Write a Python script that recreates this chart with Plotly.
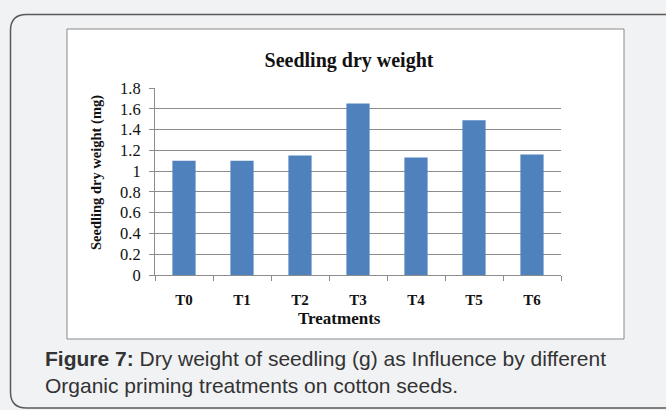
import plotly.graph_objects as go

categories = ["T0", "T1", "T2", "T3", "T4", "T5", "T6"]
dry_weight = [1.10, 1.10, 1.15, 1.65, 1.13, 1.49, 1.16]
y_ticks = [0, 0.2, 0.4, 0.6, 0.8, 1.0, 1.2, 1.4, 1.6, 1.8]
y_tick_text = ["0", "0.2", "0.4", "0.6", "0.8", "1", "1.2", "1.4", "1.6", "1.8"]

W, H = 666, 410
ML, MR, MT, MB = 155, 105, 88, 135
PW, PH = W - ML - MR, H - MT - MB

def px(x):
    return (x - ML) / PW
def py(y):
    return (H - MB - y) / PH

SERIF = "Liberation Serif, Times New Roman, serif"
SANS = "Liberation Sans, Arial, sans-serif"
GRID = "#8c8c8c"

fig = go.Figure(go.Bar(
    x=categories, y=dry_weight,
    marker=dict(color="#4f81bd", line=dict(width=0)),
    width=0.4,
))

# outer rounded panel
r = 16
x0, y0, x1, y1 = 10.5, 14.5, 690, 408
path = (f"M {px(x0)},{py(y0 + r)} Q {px(x0)},{py(y0)} {px(x0 + r)},{py(y0)} "
        f"L {px(x1)},{py(y0)} L {px(x1)},{py(y1)} L {px(x0 + r)},{py(y1)} "
        f"Q {px(x0)},{py(y1)} {px(x0)},{py(y1 - r)} Z")

fig.update_layout(
    width=W, height=H,
    paper_bgcolor="#f1f2f4",
    plot_bgcolor="white",
    margin=dict(l=ML, r=MR, t=MT, b=MB, autoexpand=False),
    showlegend=False,
    shapes=[
        dict(type="path", path=path, xref="paper", yref="paper",
             line=dict(color="#5a5a5a", width=1.5), fillcolor="#f1f2f4", layer="below"),
        dict(type="rect", xref="paper", yref="paper",
             x0=px(67), x1=px(624), y0=py(339), y1=py(29),
             line=dict(color="#8a8a8a", width=1), fillcolor="white", layer="below"),
    ],
    title=dict(text="<b>Seedling dry weight</b>", x=349 / W, xanchor="center",
               y=1 - 60 / H, yanchor="middle", xref="container", yref="container",
               font=dict(family=SERIF, size=20, color="#111")),
    xaxis=dict(
        showline=True, linecolor=GRID, linewidth=1,
        ticks="outside", tickson="boundaries", ticklen=5, tickcolor=GRID,
        tickfont=dict(family=SERIF, size=15, color="#111", weight="bold"),
        ticklabelstandoff=11,
        showgrid=False,
    ),
    yaxis=dict(
        range=[0, 1.8], tickvals=y_ticks, ticktext=y_tick_text,
        showline=True, linecolor=GRID, linewidth=1,
        ticks="outside", ticklen=5, tickcolor=GRID,
        showgrid=True, gridcolor=GRID, gridwidth=1, zeroline=False,
        tickfont=dict(family=SERIF, size=16.5, color="#111"),
        ticklabelstandoff=5,
    ),
    annotations=[
        dict(text="<b>Treatments</b>", xref="paper", yref="paper",
             x=px(339), y=py(318), xanchor="center", yanchor="middle", showarrow=False,
             font=dict(family=SERIF, size=17, color="#111")),
        dict(text="<b>Seedling dry weight (mg)</b>", xref="paper", yref="paper",
             x=px(96), y=py(173), xanchor="center", yanchor="middle", showarrow=False,
             textangle=-90, font=dict(family=SERIF, size=14.5, color="#111")),
        dict(text="<b>Figure 7:</b> Dry weight of seedling (g) as Influence by different<br>"
                  "Organic priming treatments on cotton seeds.",
             xref="paper", yref="paper", x=px(43), y=py(345), xanchor="left", yanchor="top",
             align="left", showarrow=False,
             font=dict(family=SANS, size=21, color="#333333")),
    ],
)

fig.write_html("out.html", post_script="document.body.style.margin='0';",
               config={"displayModeBar": False})
